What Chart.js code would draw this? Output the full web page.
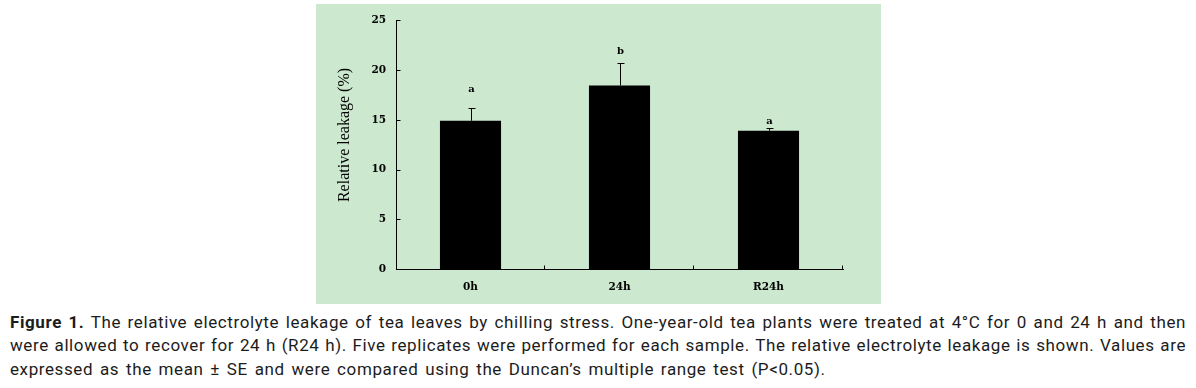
<!DOCTYPE html>
<html>
<head>
<script src="https://cdn.jsdelivr.net/npm/chart.js@4"></script>
<style>
  body { margin: 0; background: #fff; width: 1196px; height: 388px; overflow: hidden; position: relative; }
  #wrap { position: absolute; left: 316px; top: 4px; width: 565px; height: 300px; background: #cce8cf; }
  #caption { position: absolute; left: 10px; top: 311px; width: 1176px; font-family: Roboto, "Liberation Sans", sans-serif; font-size: 17px; letter-spacing: 0.6px; line-height: 23.3px; color: #1c1c1c; }
  #caption div { text-align: justify; text-align-last: justify; white-space: nowrap; }
  #caption div.last { text-align-last: left; word-spacing: 2px; }
</style>
</head>
<body>
<div id="wrap"><canvas id="chart" width="565" height="300"></canvas></div>
<div id="caption">
  <div><b>Figure 1.</b> The relative electrolyte leakage of tea leaves by chilling stress. One-year-old tea plants were treated at 4°C for 0 and 24 h and then</div>
  <div>were allowed to recover for 24 h (R24 h). Five replicates were performed for each sample. The relative electrolyte leakage is shown. Values are</div>
  <div class="last">expressed as the mean ± SE and were compared using the Duncan’s multiple range test (P&lt;0.05).</div>
</div>
<script>
const categories = ['0h', '24h', 'R24h'];
const leakage = [14.9, 18.45, 13.9];
const stdErr = [1.25, 2.25, 0.27];
const letters = ['a', 'b', 'a'];
const letterPos = [18.1, 21.85, 14.8];
const yTicks = [0, 5, 10, 15, 20, 25];

const tickFamily = '"DejaVu Serif", serif';

// error bars, significance letters, inward ticks and the y title
const extras = {
  id: 'extras',
  afterDatasetsDraw(chart) {
    const ctx = chart.ctx;
    const x = chart.scales.x, y = chart.scales.y;
    const meta = chart.getDatasetMeta(0);
    ctx.save();
    ctx.strokeStyle = '#000';
    ctx.lineWidth = 1;
    meta.data.forEach((bar, i) => {
      const cx = Math.round(bar.x) + 0.5;
      const top = Math.round(y.getPixelForValue(leakage[i] + stdErr[i])) + 0.5;
      const base = y.getPixelForValue(leakage[i]);
      ctx.beginPath();
      ctx.moveTo(cx, base);
      ctx.lineTo(cx, top);
      ctx.moveTo(cx - 3, top);
      ctx.lineTo(cx + 4, top);
      ctx.stroke();
      ctx.fillStyle = '#000';
      ctx.font = 'bold 10px ' + tickFamily;
      ctx.textAlign = 'center';
      ctx.textBaseline = 'middle';
      ctx.fillText(letters[i], bar.x + 1, y.getPixelForValue(letterPos[i]));
    });

    // inward ticks
    const left = Math.round(chart.chartArea.left) + 0.5;
    const bottom = Math.round(chart.chartArea.bottom) + 0.5;
    ctx.beginPath();
    yTicks.forEach(v => {
      const py = Math.round(y.getPixelForValue(v)) + 0.5;
      if (v > 0) { ctx.moveTo(left, py); ctx.lineTo(left + 4, py); }
    });
    for (let i = 1; i <= categories.length; i++) {
      const px = i < categories.length
        ? (x.getPixelForValue(i - 1) + x.getPixelForValue(i)) / 2
        : chart.chartArea.right;
      const rx = Math.round(px) - 0.5;
      ctx.moveTo(rx, bottom);
      ctx.lineTo(rx, bottom - 4);
    }
    ctx.stroke();

    // y title
    ctx.translate(29, 131);
    ctx.rotate(-Math.PI / 2);
    ctx.font = '16px "Liberation Serif", "Times New Roman", serif';
    ctx.textAlign = 'center';
    ctx.textBaseline = 'middle';
    ctx.fillText('Relative leakage (%)', 0, 0);
    ctx.restore();
  }
};

new Chart(document.getElementById('chart'), {
  type: 'bar',
  data: {
    labels: categories,
    datasets: [{
      data: leakage,
      backgroundColor: '#000',
      borderWidth: 0,
      categoryPercentage: 1,
      barPercentage: 0.41
    }]
  },
  options: {
    responsive: false,
    animation: false,
    events: [],
    layout: { padding: { top: 13, right: 38, left: 0, bottom: 0 } },
    plugins: { legend: { display: false }, tooltip: { enabled: false } },
    scales: {
      x: {
        offset: true,
        grid: { display: false, drawTicks: false },
        border: { display: true, color: '#000', width: 1 },
        ticks: { color: '#000', font: { family: tickFamily, size: 10.5, weight: 'bold' }, padding: 12 },
        afterFit(s) { s.height = 35; }
      },
      y: {
        min: 0,
        max: 25,
        afterBuildTicks(s) { s.ticks = yTicks.map(v => ({ value: v })); },
        grid: { display: false, drawTicks: false },
        border: { display: true, color: '#000', width: 1 },
        ticks: { color: '#000', font: { family: tickFamily, size: 10.5, weight: 'bold' }, padding: 10 },
        afterFit(s) { s.width = 80; }
      }
    }
  },
  plugins: [extras]
});
</script>
</body>
</html>
